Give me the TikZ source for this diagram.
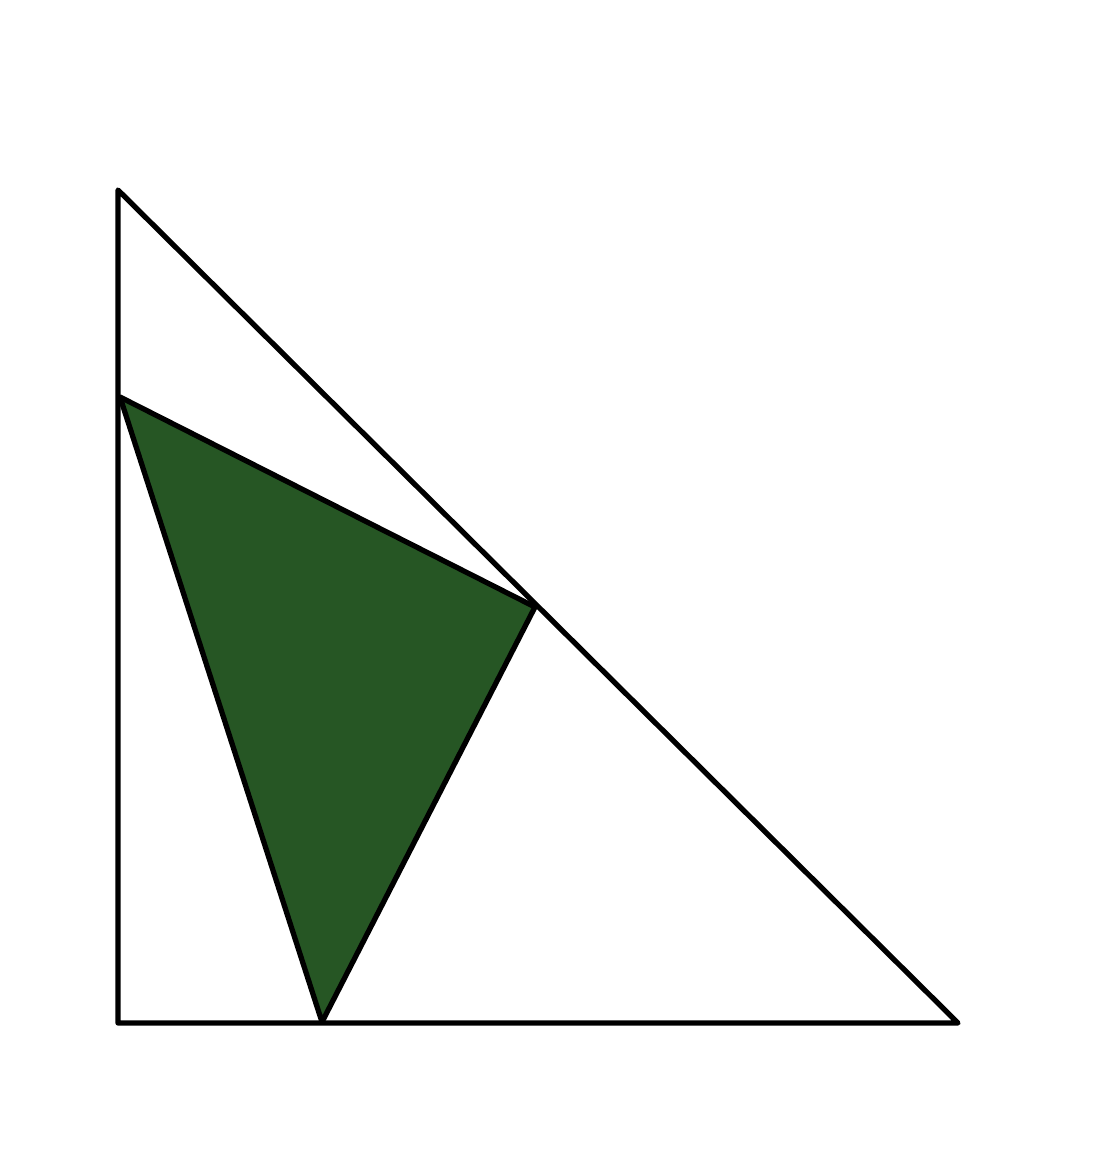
\documentclass[tikz,border=0pt]{standalone}
\definecolor{leafgreen}{RGB}{38,86,36}
\begin{document}
\begin{tikzpicture}[x=0.02cm,y=-0.02cm, line join=round, line cap=round]
\useasboundingbox (0,0) rectangle (1094,1154);
\coordinate (A) at (118,190);
\coordinate (B) at (118,1023);
\coordinate (C) at (958,1023);
\coordinate (P) at (120,397);
\coordinate (Q) at (535,607);
\coordinate (R) at (322,1022);
\filldraw[fill=leafgreen,line width=3pt] (P)--(Q)--(R)--cycle;
\draw[line width=3pt] (A)--(B)--(C)--cycle;
\end{tikzpicture}
\end{document}
